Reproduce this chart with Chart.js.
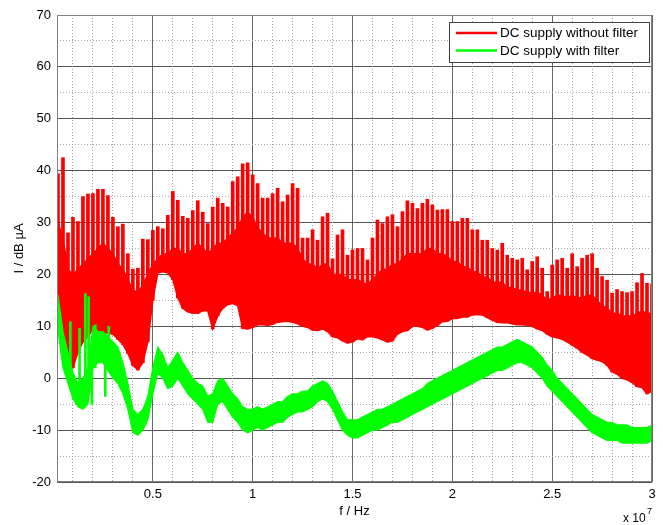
<!DOCTYPE html>
<html>
<head>
<meta charset="utf-8">
<script src="https://cdn.jsdelivr.net/npm/chart.js@4.4.0/dist/chart.umd.min.js"></script>
<style>
  html, body { margin: 0; padding: 0; background: #fff; }
  #wrap { width: 663px; height: 525px; }
</style>
</head>
<body>
<div id="wrap"><canvas id="myChart" width="663" height="525"></canvas></div>
<script>
// Spectra sampled every 250 kHz, first sample at 250 kHz
var STEP_HZ = 250e3;
var FONT = "'Liberation Sans', Arial, sans-serif";

var seriesNames = ['DC supply without filter', 'DC supply with filter'];
var seriesColors = ['#ff0000', '#00ff00'];

var xTickValues = [5e6, 1e7, 1.5e7, 2e7, 2.5e7, 3e7];
var xTickLabels = ['0.5', '1', '1.5', '2', '2.5', '3'];
var yTickValues = [-20, -10, 0, 10, 20, 30, 40, 50, 60, 70];

// without filter: bottom of the trace, top of the dense band, and harmonic peaks (dB µA)
var redLow = [
  9, 6, 3, 2, 5, 7, 8, 9.5, 9, 8.7,
  8.7, 8.5, 7.5, 6.5, 4.8, 2.5, 1.6, 3, 7, 15,
  20.3, 20.5, 20.3, 19, 15.5, 13.5, 12.8, 12.5, 12.5, 13,
  13, 9.5, 12, 13.5, 14.2, 14.4, 14, 9.6, 9.5, 9.8,
  10.3, 10.3, 10.2, 10.4, 10.8, 10.9, 11, 10.8, 10.5, 10,
  9.8, 9.3, 9.2, 9.5, 9, 8, 7.8, 7.2, 6.8, 7,
  7.6, 7.4, 8, 8, 7.8, 7.4, 7, 7.2, 8.5, 9,
  9.2, 10, 10, 9.8, 9.3, 9.6, 10.2, 10.9, 11, 11.5,
  11.5, 11.8, 11.8, 12.2, 12.3, 12.2, 11.7, 11.2, 10.8, 10.7,
  10.7, 10.5, 10.3, 10.3, 10.2, 10, 9.5, 9.2, 8.5, 8,
  7.8, 7.5, 7, 6.4, 5.8, 5, 4.5, 3.8, 3.5, 3.2,
  2.5, 1.2, 0.8, 0, -0.3, -0.8, -1.6, -1.8, -3, -2.5
];
var redBand = [
  30, 27, 21, 20, 21, 22, 23, 24, 25, 26,
  25, 24, 22, 21, 19, 17, 16.5, 18, 20, 22,
  23, 24, 24, 25, 25, 24, 24, 25, 26, 25,
  24, 25, 26, 26, 27, 28, 29, 31, 32, 31,
  29, 28, 27, 27, 27, 26, 26, 26, 25, 23,
  22, 22, 21, 22, 22, 20, 20, 20, 19, 19,
  19, 18.5, 18, 19, 20, 21, 21, 22, 22, 23,
  24, 24, 24, 24, 25, 25, 24, 24, 23.5, 22.5,
  22.5, 21.5, 21.5, 20.5, 20.5, 19.5, 19.5, 18.5, 18.5, 18.5,
  17.5, 17.5, 17, 17, 16.5, 16.5, 16.5, 16, 15, 15.5,
  16, 16, 15.5, 16, 15.5, 15.5, 16, 16, 15, 14,
  13.5, 12.5, 12.5, 12, 12, 12, 12.5, 13, 12.5, 12.5
];
var redPeak = [
  39.4, 42.5, 28, 31, 30.2, 35, 35.5, 35.6, 36.4, 36.4,
  35.2, 31, 29.2, 29.7, 24, 21, 21.2, 26.8, 26.7, 28.5,
  29.2, 28.8, 31.4, 36, 34.3, 31.2, 30.8, 32.3, 34.2, 32,
  29.8, 33, 34.7, 33.7, 33, 37.9, 38.8, 41.3, 41.5, 39.2,
  37.5, 34.7, 34.7, 35.6, 36.6, 34, 35.3, 37.5, 36.6, 27,
  27, 28.6, 26.6, 31.1, 31.8, 23, 27.6, 28.6, 23.7, 24.7,
  25, 25, 22.8, 27, 30.5, 29.8, 31.1, 31.5, 29.2, 32.1,
  34.2, 33.7, 32.7, 33.7, 34.5, 33.4, 32.4, 32.5, 32.5, 30.2,
  30.2, 30.8, 30.8, 28.6, 28.6, 26.6, 26.6, 25, 24.7, 26,
  23.7, 23.1, 22.8, 23.1, 20.9, 22.5, 23.4, 21.2, 16.7, 21.8,
  22.8, 23.1, 21.2, 24, 21.5, 23.1, 23.7, 24, 21.2, 19.6,
  18.9, 16.4, 17.1, 16.7, 16.5, 16.7, 18.4, 20.2, 18.3, 18.2
];

// with filter: upper and lower edge of the trace (dB µA)
var greenHigh = [
  16, 9, 5, 1, -1, 0, 2, 10, 9, 9,
  8, 7, 6, 3, -1, -6, -7, -6, -3.5, 2,
  6, 4.5, 2, 3.5, 5, 3, 1.5, 0, -1, -1.5,
  -3.5, -3, -0.5, 0, -1.5, -3, -4, -5.5, -6, -6,
  -5.5, -6, -5.5, -5, -4.5, -4.5, -3.5, -3, -3, -2.5,
  -2.5, -1.5, -1, -0.5, -1, -2.5, -4.5, -6.5, -8, -8,
  -8, -7.5, -7, -6.5, -6, -6, -5.5, -5, -4.5, -4,
  -3.5, -3, -2.5, -2, -1, -0.5, 0, 0.5, 1, 1.5,
  2, 2.5, 3, 3.5, 4, 4.5, 5, 5.5, 6, 6,
  6.5, 7, 7.5, 7, 6.5, 6, 5, 4, 2.5, 1.5,
  0, -1, -2, -3, -4, -5, -6, -7, -7.5, -8,
  -8.5, -8.5, -9, -9, -9, -9.5, -9.5, -9.5, -9.5, -9
];
var greenLow = [
  9, 2, -1, -4, -5.5, -6, -5, 2, 3, 3,
  1.5, 0, -1, -3, -6, -10.5, -11, -10, -8, -3,
  1, 0, -2, -1.5, 0, -1.5, -3, -4, -5, -6,
  -8.5, -8.5, -5, -4.5, -6, -7.5, -8.5, -10, -10.5, -10,
  -9.5, -10, -9.5, -9, -8.5, -8.5, -7.5, -7, -6.5, -6.5,
  -6, -5.5, -4.5, -4, -4.5, -6, -8, -10, -11, -11.5,
  -11.5, -11, -10.5, -10, -10, -9.5, -9, -8.5, -8.5, -8,
  -7.5, -7, -6.5, -6, -5.5, -5, -4.5, -4, -3.5, -3,
  -2.5, -2, -1.5, -1, -0.5, 0, 0.5, 1, 1.5, 1.5,
  2, 2.5, 3, 3, 2.5, 2, 1, 0, -1.5, -2.5,
  -3.5, -4.5, -5.5, -6.5, -7.5, -8.5, -9.5, -10.5, -11, -11.5,
  -12, -12, -12, -12.5, -12.5, -12.5, -12.5, -12.5, -12.5, -12
];
// isolated spikes of the filtered trace at low frequency
var greenSpikeFreq = [0.87e6, 1.33e6, 1.62e6, 1.78e6, 1.95e6, 2.12e6, 2.62e6, 2.79e6];
var greenSpikeLow = [-1, -4, -2, -1, -5, 2, -3.5, 3];
var greenSpikeHigh = [10.9, 9.6, 16.3, 15.7, 8, 10.3, 8, 10];

function points(values) {
  return values.map(function (v, i) { return { x: (i + 1) * STEP_HZ, y: v }; });
}
function spans(lo, hi, freq) {
  return lo.map(function (v, i) {
    return { x: freq ? freq[i] : (i + 1) * STEP_HZ, y: [v, hi[i]] };
  });
}

var minorX = [];
for (var f = 1e6; f < 3e7; f += 1e6) { if (f % 5e6 !== 0) minorX.push(f); }
var minorY = [-15, -5, 5, 15, 25, 35, 45, 55, 65];

// dotted minor grid, axes box, legend and the x exponent
var matlabLook = {
  id: 'matlabLook',
  beforeDatasetsDraw: function (chart) {
    var c = chart.ctx, a = chart.chartArea, sx = chart.scales.x, sy = chart.scales.y;
    c.save();
    c.strokeStyle = '#a8a8a8';
    c.lineWidth = 1;
    c.setLineDash([1, 2]);
    c.beginPath();
    minorX.forEach(function (v) {
      var px = Math.round(sx.getPixelForValue(v) - 0.5) + 0.5;
      c.moveTo(px, a.top); c.lineTo(px, a.bottom);
    });
    minorY.forEach(function (v) {
      var py = Math.round(sy.getPixelForValue(v) - 0.5) + 0.5;
      c.moveTo(a.left, py); c.lineTo(a.right, py);
    });
    c.stroke();
    c.restore();
  },
  afterDatasetsDraw: function (chart) {
    var c = chart.ctx, a = chart.chartArea;
    c.save();
    c.strokeStyle = '#808080';
    c.lineWidth = 1;
    c.strokeRect(Math.round(a.left) + 0.5, Math.round(a.top) + 0.5,
                 Math.round(a.right - a.left) - 1, Math.round(a.bottom - a.top) - 1);
    c.restore();
  },
  afterDraw: function (chart) {
    var c = chart.ctx, a = chart.chartArea;
    var w = 200, h = 40, bx = Math.round(a.right) - 3 - w, by = Math.round(a.top) + 7;
    c.save();
    c.fillStyle = '#fff';
    c.fillRect(bx, by, w, h);
    c.strokeStyle = '#404040';
    c.lineWidth = 1;
    c.strokeRect(bx + 0.5, by + 0.5, w, h);
    c.font = '13.5px ' + FONT;
    c.textBaseline = 'middle';
    c.textAlign = 'left';
    seriesNames.forEach(function (name, i) {
      var ly = by + 11 + i * 17.5;
      c.strokeStyle = seriesColors[i];
      c.lineWidth = 2.5;
      c.beginPath();
      c.moveTo(bx + 7, ly); c.lineTo(bx + 48, ly);
      c.stroke();
      c.fillStyle = '#000';
      c.fillText(name, bx + 51, ly + 0.5);
    });
    c.font = '12px ' + FONT;
    c.fillText('x 10', a.right - 29, 519);
    c.font = '9px ' + FONT;
    c.fillText('7', a.right - 5, 512);
    c.restore();
  }
};

var ctx = document.getElementById('myChart').getContext('2d');
var myChart = new Chart(ctx, {
  type: 'line',
  data: {
    datasets: [{
      label: seriesNames[1],
      data: points(greenHigh),
      borderColor: seriesColors[1],
      backgroundColor: seriesColors[1],
      borderWidth: 1.2,
      pointRadius: 0,
      tension: 0,
      fill: '+1'
    }, {
      label: seriesNames[1],
      data: points(greenLow),
      borderColor: seriesColors[1],
      borderWidth: 1.2,
      pointRadius: 0,
      tension: 0,
      fill: false
    }, {
      type: 'bar',
      label: seriesNames[1],
      data: spans(greenSpikeLow, greenSpikeHigh, greenSpikeFreq),
      backgroundColor: seriesColors[1],
      borderWidth: 0,
      barThickness: 2,
      grouped: false
    }, {
      label: seriesNames[0],
      data: points(redBand),
      borderColor: seriesColors[0],
      backgroundColor: seriesColors[0],
      borderWidth: 1.5,
      pointRadius: 0,
      tension: 0,
      fill: '+1'
    }, {
      label: seriesNames[0],
      data: points(redLow),
      borderColor: seriesColors[0],
      borderWidth: 1.5,
      pointRadius: 0,
      tension: 0,
      fill: false
    }, {
      type: 'bar',
      label: seriesNames[0],
      data: spans(redLow, redPeak),
      backgroundColor: seriesColors[0],
      borderWidth: 0,
      barThickness: 3,
      grouped: false
    }]
  },
  options: {
    responsive: false,
    animation: false,
    layout: { padding: { top: 15, right: 11, left: 0, bottom: 0 } },
    plugins: {
      legend: { display: false },
      tooltip: { enabled: false }
    },
    scales: {
      x: {
        type: 'linear',
        min: 2e5,
        max: 3e7,
        offset: false,
        afterBuildTicks: function (scale) {
          scale.ticks = xTickValues.map(function (v) { return { value: v }; });
        },
        afterFit: function (scale) { scale.height = 43; },
        grid: { color: '#666', lineWidth: 1, drawTicks: false, offset: false },
        border: { display: false },
        ticks: {
          padding: 5,
          color: '#000',
          font: { family: FONT, size: 13 },
          maxRotation: 0,
          callback: function (value, index) { return xTickLabels[index]; }
        },
        title: {
          display: true,
          text: 'f / Hz',
          color: '#000',
          font: { family: FONT, size: 13 },
          padding: { top: 0, bottom: 6 }
        }
      },
      y: {
        min: -20,
        max: 70,
        afterBuildTicks: function (scale) {
          scale.ticks = yTickValues.map(function (v) { return { value: v }; });
        },
        afterFit: function (scale) { scale.width = 57; },
        grid: { color: '#555', lineWidth: 1, drawTicks: false },
        border: { display: false },
        ticks: {
          padding: 6,
          color: '#000',
          font: { family: FONT, size: 13 }
        },
        title: {
          display: true,
          text: 'I / dB µA',
          color: '#000',
          font: { family: FONT, size: 13 },
          padding: { top: 12, bottom: 0 }
        }
      }
    }
  },
  plugins: [matlabLook]
});
</script>
</body>
</html>
